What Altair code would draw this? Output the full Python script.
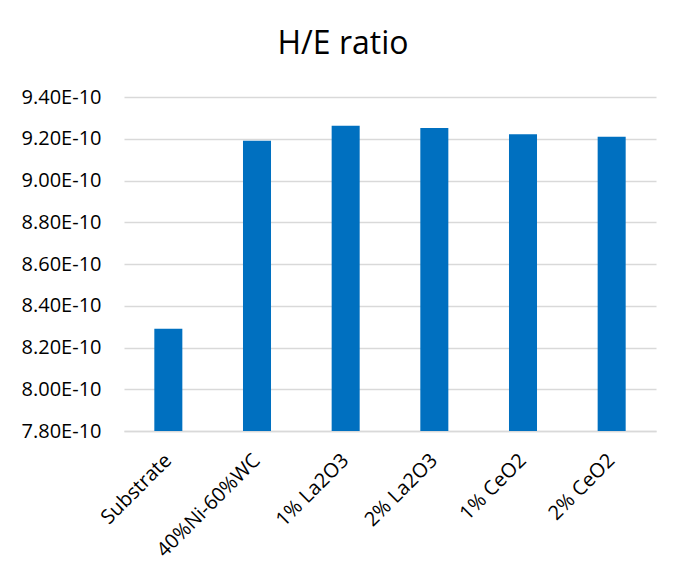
import altair as alt
import pandas as pd

categories = ["Substrate", "40%Ni-60%WC", "1% La2O3", "2% La2O3", "1% CeO2", "2% CeO2"]
values = [8.29e-10, 9.19e-10, 9.262e-10, 9.251e-10, 9.222e-10, 9.21e-10]
y_ticks = [7.8e-10, 8.0e-10, 8.2e-10, 8.4e-10, 8.6e-10, 8.8e-10, 9.0e-10, 9.2e-10, 9.4e-10]
y_base = 7.8e-10
title_text = "H/E ratio"

df = pd.DataFrame({"cat": categories, "val": values})

chart = alt.Chart(df).mark_bar(color="#0070C0").encode(
    x=alt.X("cat:N", sort=categories, title=None,
            scale=alt.Scale(paddingInner=0.684, paddingOuter=0.342),
            axis=alt.Axis(labelAngle=-45, labelAlign="right", labelBaseline="middle",
                          labelFontSize=20, labelFont="Open Sans", labelColor="#000000",
                          ticks=False, labelPadding=26, domainColor="#D9D9D9",
                          domainWidth=1.5, grid=False)),
    y=alt.Y("val:Q", title=None,
            scale=alt.Scale(domain=[y_ticks[0], y_ticks[-1]], nice=False, zero=False),
            axis=alt.Axis(values=y_ticks,
                          labelExpr="replace(format(datum.value, '.2e'), 'e', 'E')",
                          labelFontSize=20, labelFont="Open Sans", labelColor="#000000",
                          ticks=False, domain=False, labelPadding=23,
                          gridColor="#D9D9D9", gridWidth=1.5)),
    y2=alt.datum(y_base),
).properties(
    width=532,
    height=334,
    title=alt.TitleParams(title_text, font="Open Sans", fontSize=32, fontWeight="normal",
                          color="#000000", anchor="middle", dx=-47, offset=26),
    autosize=alt.AutoSizeParams(type="none"),
    padding={"left": 116, "top": 89, "right": 21, "bottom": 146},
).configure_view(stroke=None)

chart.save("out.html", embed_options={"renderer": "svg", "actions": False})
